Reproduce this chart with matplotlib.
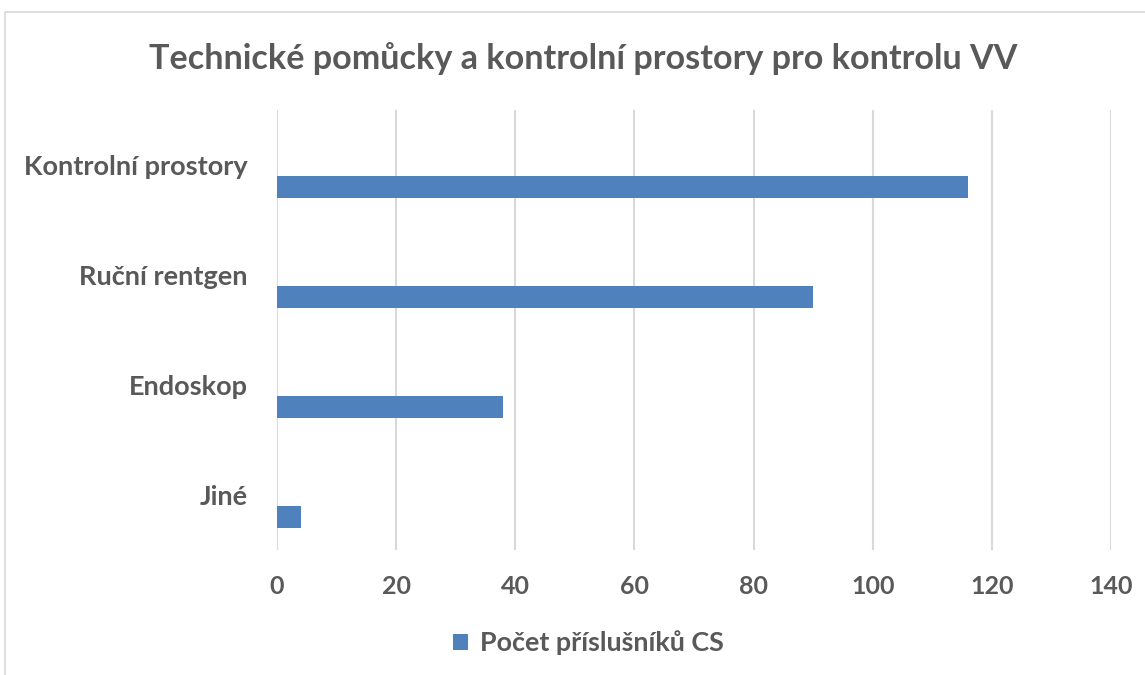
import matplotlib.pyplot as plt
from matplotlib.patches import Rectangle

categories = ["Kontrolní prostory", "Ruční rentgen", "Endoskop", "Jiné"]
values = [116, 90, 38, 4]
series_name = "Počet příslušníků CS"
title = "Technické pomůcky a kontrolní prostory pro kontrolu VV"
x_ticks = [0, 20, 40, 60, 80, 100, 120, 140]

bar_color = "#4F81BD"
text_color = "#595959"
grid_color = "#D9D9D9"

plt.rcParams['font.family'] = ['Lato', 'DejaVu Sans']

fig = plt.figure(figsize=(11.45, 6.75), dpi=100)
W, H = 1145, 675

# chart frame
fig.patches.append(Rectangle((5 / W, -0.01), 1.2, 1 - 12 / H + 0.01,
                             transform=fig.transFigure, fill=False,
                             edgecolor="#D9D9D9", linewidth=1.2))

ax = fig.add_axes([277 / W, 1 - 550 / H, (1111 - 277) / W, 440 / H])

pos = list(range(len(categories)))
ax.barh([p + 0.2 for p in pos], values, height=0.2, color=bar_color,
        label=series_name, zorder=3)

ax.set_ylim(len(categories) - 0.5, -0.5)
ax.set_xlim(0, 140)
ax.set_xticks(x_ticks)
ax.set_xticklabels([str(t) for t in x_ticks], fontsize=18, fontweight="bold",
                   color=text_color)
ax.set_yticks(pos)
ax.set_yticklabels(categories, fontsize=19.5, fontweight="bold", color=text_color)
ax.tick_params(axis="both", length=0)
ax.tick_params(axis="x", pad=18)
ax.tick_params(axis="y", pad=21)
ax.xaxis.grid(True, color=grid_color, linewidth=1.5, zorder=0)
for s in ax.spines.values():
    s.set_visible(False)

fig.text(0.5 + 11 / W, 1 - 59 / H, title, ha="center", va="center", fontsize=24.6,
         fontweight="bold", color=text_color)

fig.legend(loc="center", bbox_to_anchor=(0.514, 1 - 643 / H), frameon=False,
           prop={"size": 19.4, "weight": "bold"}, labelcolor=text_color,
           handlelength=0.55, handleheight=0.55, handletextpad=0.45)

fig.savefig("out.png", dpi=100)
